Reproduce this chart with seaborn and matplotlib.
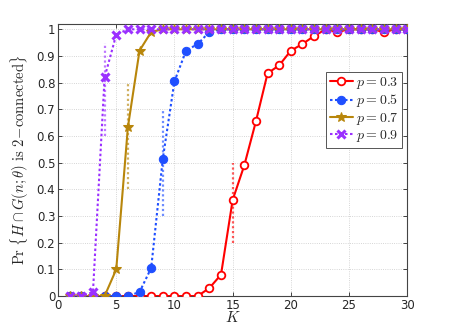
import matplotlib
matplotlib.use("Agg")
import matplotlib.pyplot as plt
import matplotlib.ticker as mticker
import seaborn as sns
import pandas as pd

# ======================
# Data
# ======================
K = list(range(1, 31))
p03 = [0, 0, 0, 0, 0, 0, 0, 0, 0, 0, 0, 0, 0.03, 0.08, 0.36, 0.49, 0.655, 0.835, 0.865, 0.92,
       0.945, 0.975, 1.0, 0.99, 1.0, 1.0, 1.0, 0.99, 1.0, 1.0]
p05 = [0, 0, 0, 0, 0, 0, 0.015, 0.105, 0.515, 0.805, 0.92, 0.945, 0.99, 1.0, 1.0, 1.0, 1.0, 1.0,
       1.0, 1.0, 1.0, 1.0, 1.0, 1.0, 1.0, 1.0, 1.0, 1.0, 1.0, 1.0]
p07 = [0, 0, 0, 0, 0.1, 0.633, 0.92, 0.99, 1.0, 1.0, 1.0, 1.0, 1.0, 1.0, 1.0, 1.0, 1.0, 1.0,
       1.0, 1.0, 1.0, 1.0, 1.0, 1.0, 1.0, 1.0, 1.0, 1.0, 1.0, 1.0]
p09 = [0, 0, 0.015, 0.82, 0.98, 1.0, 1.0, 1.0, 1.0, 1.0, 1.0, 1.0, 1.0, 1.0, 1.0, 1.0, 1.0, 1.0,
       1.0, 1.0, 1.0, 1.0, 1.0, 1.0, 1.0, 1.0, 1.0, 1.0, 1.0, 1.0]
labels = [r"$p = 0.3$", r"$p = 0.5$", r"$p = 0.7$", r"$p = 0.9$"]

# theoretical threshold markers (vertical dotted segments)
ref_k = [15, 9, 6, 4]
ref_lo = [0.2, 0.3, 0.4, 0.6]
ref_hi = [0.5, 0.7, 0.8, 0.95]

colors = ["#ff0000", "#1f4fff", "#b8860b", "#9b30ff"]

sns.set_style("ticks")
plt.rcParams["mathtext.fontset"] = "cm"
plt.rcParams["font.family"] = ["DejaVu Sans"]

fig = plt.figure(figsize=(4.5, 3.33), dpi=100)
ax = fig.add_axes([0.129, 0.111, 0.776, 0.817])

df = pd.DataFrame({"K": K, "p03": p03, "p05": p05, "p07": p07, "p09": p09})

for k, lo, hi, c in zip(ref_k, ref_lo, ref_hi, colors):
    ax.vlines(k, lo, hi, colors=c, linestyles=(0, (1, 1.2)), linewidth=1.6, alpha=0.65, zorder=2)

sns.lineplot(data=df, x="K", y="p03", ax=ax, color=colors[0], linestyle="-", linewidth=1.5,
             marker="o", markersize=5.5, markerfacecolor="white", markeredgecolor=colors[0],
             markeredgewidth=1.3, label=labels[0], zorder=3)
sns.lineplot(data=df, x="K", y="p05", ax=ax, color=colors[1], linestyle=(0, (1.2, 1.2)), linewidth=1.5,
             marker="o", markersize=6, markerfacecolor=colors[1], markeredgecolor=colors[1],
             label=labels[1], zorder=4)
sns.lineplot(data=df, x="K", y="p07", ax=ax, color=colors[2], linestyle="-", linewidth=1.5,
             marker="*", markersize=7.5, markerfacecolor=colors[2], markeredgecolor=colors[2],
             label=labels[2], zorder=5)
sns.lineplot(data=df, x="K", y="p09", ax=ax, color=colors[3], linestyle=(0, (1.2, 1.2)), linewidth=1.5,
             marker="x", markersize=5.5, markeredgewidth=2.2, markeredgecolor=colors[3],
             label=labels[3], zorder=6)

ax.set_xlim(0, 30)
ax.set_ylim(0, 1.02)
ax.xaxis.set_major_locator(mticker.MultipleLocator(5))
ax.yaxis.set_major_locator(mticker.MultipleLocator(0.1))
ax.yaxis.set_major_formatter(mticker.FormatStrFormatter("%g"))
ax.grid(True, linestyle=":", linewidth=0.6, color="#c8c8c8")
ax.tick_params(direction="in", top=True, right=True, labelsize=8.5, length=3, width=0.6, pad=2)
for s in ax.spines.values():
    s.set_linewidth(0.8)
    s.set_color("#444444")

ax.set_xlabel(r"$K$", fontsize=11, labelpad=-1)
ax.set_ylabel(r"$\mathrm{Pr}\ \{H\cap G(n;\theta)\ \mathrm{is\ 2\!-\!connected}\}$", fontsize=10.5, labelpad=4)

leg = ax.legend(loc="upper right", bbox_to_anchor=(0.985, 0.825), fontsize=10, frameon=True,
                fancybox=False, edgecolor="#555555", framealpha=1, borderpad=0.25,
                handlelength=1.7, handletextpad=0.2, labelspacing=0.1, borderaxespad=0)
leg.get_frame().set_linewidth(0.7)

fig.savefig("out.png", dpi=100)
plt.close(fig)
